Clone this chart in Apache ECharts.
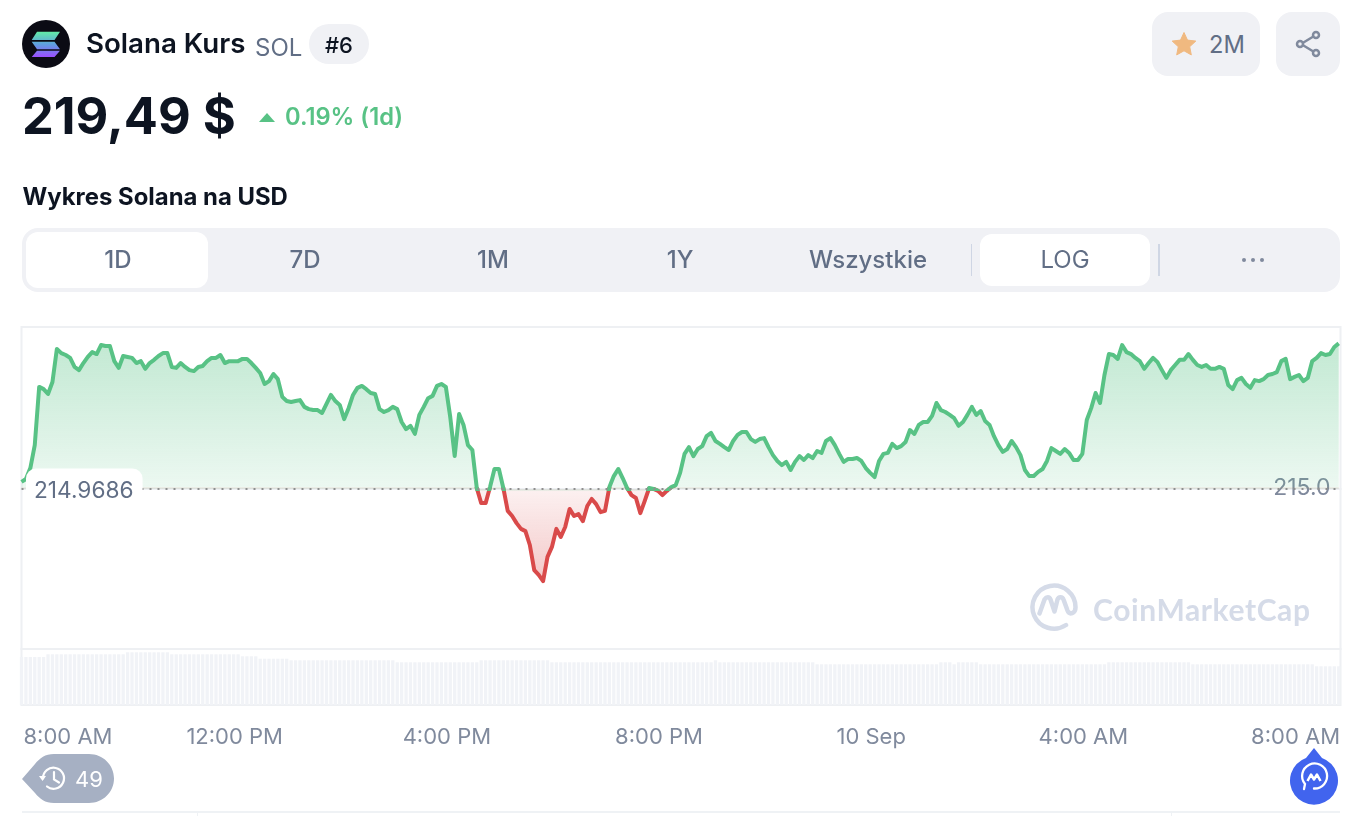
<!DOCTYPE html>
<html lang="pl">
<head>
<meta charset="utf-8">
<title>Solana Kurs</title>
<script src="https://cdn.jsdelivr.net/npm/echarts@6/dist/echarts.min.js"></script>
<style>
html, body { margin: 0; padding: 0; background: #fff; }
body { width: 1360px; height: 816px; overflow: hidden; position: relative; font-family: Inter, "Noto Sans", sans-serif; color: #0d1421; }
#chart { position: absolute; left: 0; top: 0; width: 1360px; height: 816px; }
.t { position: absolute; white-space: nowrap; line-height: 1; }
.box { position: absolute; }
.tab { position: absolute; top: 228px; height: 64px; line-height: 63px; text-align: center; font-size: 24px; font-weight: 500; color: #616e85; transform: translateX(-50%); white-space: nowrap; }
svg { position: absolute; overflow: visible; }
</style>
</head>
<body>
<div id="chart"></div>

<!-- naglowek -->
<svg style="left:22px;top:20px" width="48" height="48" viewBox="0 0 48 48">
  <defs><linearGradient id="sol" x1="0" y1="0" x2="0" y2="1"><stop offset="0" stop-color="#62eca6"/><stop offset="0.5" stop-color="#5f9fe0"/><stop offset="1" stop-color="#9b4dff"/></linearGradient></defs>
  <circle cx="24" cy="24" r="24" fill="#0b0b14"/>
  <path fill="url(#sol)" d="M15 11.700H38L32.500 20H9.700zM9.700 21.700H32.500L38 29.300H15zM15 30.700H38L32.500 37H9.700z"/>
</svg>
<div class="t" style="left:86px;top:30px;font-size:27.700px;font-weight:600">Solana Kurs</div>
<div class="t" style="left:255px;top:36px;font-size:24px;color:#616e85">SOL</div>
<div class="box" style="left:309px;top:24px;width:60px;height:40px;border-radius:20px;background:#f0f1f5"></div>
<div class="t" style="left:325px;top:34px;font-size:22px;font-weight:500">#6</div>
<div class="t" style="left:22px;top:91px;font-size:50.500px;font-weight:700">219,49 $</div>
<svg style="left:259px;top:113px" width="16" height="9" viewBox="0 0 16 9"><path d="M8 0L16 9H0z" fill="#58c285"/></svg>
<div class="t" style="left:285px;top:105px;font-size:23.700px;font-weight:600;color:#58c285">0.19% (1d)</div>
<div class="t" style="left:22.500px;top:185px;font-size:23.900px;font-weight:700">Wykres Solana na USD</div>

<!-- przyciski -->
<div class="box" style="left:1152px;top:12px;width:108px;height:64px;border-radius:16px;background:#f0f1f5"></div>
<svg style="left:1172px;top:32px" width="24" height="24" viewBox="0 0 24 24"><path d="M12 .500l3.500 7.600 8.300 1-6.100 5.600 1.600 8.200L12 18.800l-7.300 4.100 1.600-8.200L.200 9.100l8.300-1z" fill="#f0b980" stroke="#f0b980" stroke-linejoin="round"/></svg>
<div class="t" style="left:1209px;top:33px;font-size:23.700px;color:#616e85">2M</div>
<div class="box" style="left:1276px;top:12px;width:64px;height:64px;border-radius:16px;background:#f0f1f5"></div>
<svg style="left:1296px;top:32px" width="24" height="24" viewBox="0 0 24 24" fill="none" stroke="#808a9d" stroke-width="2.500"><path d="M5 12L19 3.500M5 12l14 8.500"/><circle cx="4" cy="12" r="3" fill="#f0f1f5"/><circle cx="20" cy="3" r="3" fill="#f0f1f5"/><circle cx="20" cy="21" r="3" fill="#f0f1f5"/></svg>

<!-- zakladki -->
<div class="box" style="left:22px;top:228px;width:1318px;height:64px;border-radius:16px;background:#f0f1f5"></div>
<div class="box" style="left:26px;top:232px;width:182px;height:56px;border-radius:12px;background:#fff"></div>
<div class="box" style="left:980px;top:234px;width:170px;height:52px;border-radius:12px;background:#fff"></div>
<div class="box" style="left:971px;top:244px;width:1px;height:32px;background:#cfd6e4"></div>
<div class="box" style="left:1158px;top:244px;width:2px;height:32px;background:#cfd6e4"></div>
<div class="tab" style="left:118px">1D</div>
<div class="tab" style="left:305px">7D</div>
<div class="tab" style="left:493px">1M</div>
<div class="tab" style="left:680px">1Y</div>
<div class="tab" style="left:868px">Wszystkie</div>
<div class="tab" style="left:1065px;font-weight:400">LOG</div>
<svg style="left:1241px;top:257px" width="24" height="6" viewBox="0 0 24 6" fill="#808a9d"><circle cx="3" cy="3" r="2"/><circle cx="12" cy="3" r="2"/><circle cx="21" cy="3" r="2"/></svg>

<!-- znak wodny -->
<svg style="left:1030px;top:584px" width="48" height="48" viewBox="0 0 48 48" fill="none" stroke="#d5dbe8" stroke-width="4.500" stroke-linecap="round" stroke-linejoin="round">
  <path d="M36 41A21.500 21.500 0 1 1 45.500 23.500c0 6-6 8-8 3l-4-11c-1-3-5-3-6 0l-3 12-4-12c-1-3-4-3-6 0l-5 14"/>
</svg>
<div class="t" style="left:1093px;top:594px;font-size:30px;font-weight:700;color:#d5dbe8;font-family:Lato,Inter,sans-serif;letter-spacing:.6px">CoinMarketCap</div>

<!-- dol -->
<svg style="left:22px;top:754px" width="92" height="49" viewBox="0 0 92 49"><path d="M0 25L13 10C18 4 23 0 32 0H67C81 0 92 11 92 24.500S81 49 67 49H32C23 49 18 45 13 39z" fill="#a6b0c3"/>
  <g fill="none" stroke="#fff" stroke-width="2.200" stroke-linecap="round"><path d="M21 24.500a10.500 10.500 0 1 1 4 8"/><path d="M32 18v7.500l5 3"/></g><path d="M17 22h7l-3.500 5z" fill="#fff"/></svg>
<div class="t" style="left:75px;top:768px;font-size:22px;font-weight:400;color:#fff">49</div>
<svg style="left:1290px;top:748px" width="48" height="56" viewBox="0 0 48 56"><path d="M24 0l8 10A24 24 0 1 1 16 10z" fill="#4164ee"/>
  <path d="M14 41l1-5a12.500 12.500 0 1 1 9 4.500" fill="none" stroke="#fff" stroke-width="2.300" stroke-linecap="round"/><path d="M17.500 33l3.500-6.500 3 5 3-5 3.500 6.500" fill="none" stroke="#fff" stroke-width="2.500" stroke-linejoin="round"/></svg>
<div class="box" style="left:22px;top:811px;width:1318px;height:2px;background:#eff2f5"></div>
<div class="box" style="left:197px;top:811px;width:1px;height:5px;background:#eff2f5"></div>
<div class="box" style="left:1171px;top:811px;width:1px;height:5px;background:#eff2f5"></div>

<script>
// dane wykresu, krok 5 minut od 8:00 AM
const stepMinutes = 5;
const basePrice = 214.9686;
const xTickLabels = ["8:00 AM", "12:00 PM", "4:00 PM", "8:00 PM", "10 Sep", "4:00 AM", "8:00 AM"];
const prices = [
    215.19, 215.28, 215.62, 216.33, 218.14, 218.07, 217.92, 218.29, 219.32, 219.19,
    219.13, 219.04, 218.76, 218.66, 218.88, 219.07, 219.22, 219.16, 219.44, 219.41,
    219.41, 218.94, 218.73, 219.10, 219.07, 219.04, 218.88, 218.94, 218.70, 218.88,
    218.98, 219.10, 219.19, 219.19, 218.76, 218.73, 218.88, 218.76, 218.66, 218.63,
    218.76, 218.79, 218.94, 219.04, 219.04, 219.13, 218.88, 218.94, 218.94, 218.94,
    219.01, 219.01, 218.88, 218.73, 218.57, 218.23, 218.32, 218.54, 218.38, 217.83,
    217.70, 217.67, 217.70, 217.73, 217.52, 217.45, 217.42, 217.42, 217.33, 217.61,
    217.89, 217.70, 217.58, 217.14, 217.48, 217.89, 218.11, 218.17, 218.07, 217.95,
    217.92, 217.45, 217.36, 217.42, 217.52, 217.45, 217.05, 216.83, 216.93, 216.68,
    217.27, 217.52, 217.79, 217.86, 218.17, 218.23, 218.14, 217.20, 215.99, 217.30,
    216.96, 216.33, 216.18, 215.00, 214.53, 214.53, 215.03, 215.59, 215.59, 215.00,
    214.29, 214.13, 213.91, 213.73, 213.66, 213.23, 212.45, 212.30, 212.11, 212.86,
    213.17, 213.73, 213.48, 213.79, 214.35, 214.13, 214.19, 213.97, 214.44, 214.66,
    214.50, 214.25, 214.29, 215.03, 215.37, 215.59, 215.31, 215.00, 214.78, 214.69,
    214.22, 214.60, 215.00, 214.97, 214.91, 214.78, 214.91, 215.03, 215.09, 215.47,
    216.06, 216.27, 215.99, 216.21, 216.30, 216.61, 216.71, 216.46, 216.37, 216.27,
    216.18, 216.46, 216.65, 216.74, 216.74, 216.52, 216.43, 216.52, 216.55, 216.27,
    216.02, 215.84, 215.71, 215.81, 215.56, 215.81, 215.99, 215.87, 216.02, 215.93,
    216.15, 216.09, 216.46, 216.55, 216.33, 216.06, 215.81, 215.90, 215.90, 215.93,
    215.84, 215.62, 215.47, 215.34, 215.84, 216.06, 216.09, 216.37, 216.24, 216.30,
    216.43, 216.80, 216.68, 216.96, 217.05, 217.05, 217.24, 217.64, 217.42, 217.36,
    217.27, 217.17, 216.93, 217.05, 217.27, 217.52, 217.27, 217.39, 217.08, 216.96,
    216.61, 216.33, 216.12, 216.21, 216.46, 216.27, 216.02, 215.56, 215.37, 215.37,
    215.50, 215.59, 215.84, 216.24, 216.15, 216.06, 216.21, 216.09, 215.87, 215.87,
    216.06, 217.11, 217.48, 217.95, 217.64, 218.51, 219.16, 219.13, 219.01, 219.44,
    219.22, 219.16, 219.04, 218.94, 218.70, 218.88, 219.04, 218.91, 218.66, 218.42,
    218.66, 218.82, 218.98, 218.98, 219.16, 218.98, 218.82, 218.76, 218.82, 218.70,
    218.70, 218.76, 218.70, 218.20, 218.07, 218.35, 218.42, 218.23, 218.11, 218.35,
    218.32, 218.38, 218.51, 218.54, 218.60, 218.94, 219.01, 218.38, 218.45, 218.51,
    218.32, 218.42, 218.94, 219.04, 219.19, 219.13, 219.16, 219.38, 219.49
];
const volumes = [
    4.8, 4.8, 4.8, 4.8, 4.8, 4.8,
    5.07, 5.07, 5.07, 5.07, 5.07, 5.07, 5.07, 5.07, 5.07, 5.07, 5.07, 5.07, 5.07, 5.07, 5.07, 5.07, 5.07, 5.07,
    5.27, 5.27, 5.27, 5.27, 5.27, 5.27, 5.27, 5.27, 5.27, 5.27,
    5.07, 5.07, 5.07, 5.07, 5.07, 5.07, 5.07, 5.07, 5.07, 5.07, 5.07, 5.07, 5.07, 5.07, 5.07, 5.07,
    4.87, 4.87, 4.87, 4.87,
    4.63, 4.63, 4.63, 4.63, 4.63, 4.63, 4.63,
    4.47, 4.47, 4.47, 4.47, 4.47, 4.47, 4.47, 4.47, 4.47, 4.47, 4.47, 4.47,
    4.47, 4.47, 4.47, 4.47, 4.47, 4.47, 4.47, 4.47, 4.47, 4.47, 4.47, 4.47,
    4.27, 4.27, 4.27, 4.27, 4.27, 4.27, 4.27, 4.27, 4.27, 4.27, 4.27, 4.27, 4.27, 4.27, 4.27, 4.27, 4.27, 4.27, 4.27,
    4.47, 4.47, 4.47, 4.47, 4.47, 4.47, 4.47, 4.47, 4.47, 4.47, 4.47, 4.47, 4.47, 4.47, 4.47, 4.47,
    4.27, 4.27, 4.27, 4.27, 4.27, 4.27, 4.27, 4.27, 4.27, 4.27, 4.27, 4.27, 4.27, 4.27, 4.27, 4.27, 4.27, 4.27, 4.27,
    4.27, 4.27, 4.27, 4.27, 4.27, 4.27, 4.27, 4.27, 4.27, 4.27, 4.27, 4.27, 4.27, 4.27, 4.27, 4.27, 4.27, 4.27,
    4.47,
    4.27, 4.27, 4.27, 4.27, 4.27, 4.27, 4.27, 4.27, 4.27, 4.27, 4.27,
    4.27, 4.27, 4.27, 4.27, 4.27, 4.27, 4.27, 4.27, 4.27, 4.27, 4.27,
    4.07, 4.07, 4.07, 4.07, 4.07, 4.07, 4.07, 4.07, 4.07, 4.07, 4.07, 4.07, 4.07, 4.07,
    4.07, 4.07, 4.07, 4.07, 4.07, 4.07, 4.07, 4.07, 4.07, 4.07, 4.07, 4.07, 4.07, 4.07,
    4.27, 4.27, 4.27,
    4.07,
    4.27, 4.27, 4.27, 4.27, 4.27,
    4.07, 4.07, 4.07, 4.07, 4.07, 4.07, 4.07, 4.07, 4.07, 4.07, 4.07, 4.07, 4.07, 4.07, 4.07,
    4.07, 4.07, 4.07, 4.07, 4.07, 4.07, 4.07, 4.07, 4.07, 4.07, 4.07, 4.07, 4.07, 4.07,
    4.27, 4.27, 4.27, 4.27, 4.27, 4.27, 4.27, 4.27, 4.27, 4.27, 4.27, 4.27, 4.27, 4.27, 4.27, 4.27, 4.27, 4.27, 4.27,
    4.07, 4.07, 4.07, 4.07, 4.07, 4.07, 4.07, 4.07, 4.07, 4.07, 4.07, 4.07, 4.07, 4.07,
    4.07, 4.07, 4.07, 4.07, 4.07, 4.07, 4.07, 4.07, 4.07, 4.07, 4.07, 4.07, 4.07, 4.07,
    3.87, 3.87, 3.87, 3.87, 3.87, 3.87
];

const green = "#58c285";
const red = "#d94a4a";
const frameColor = "#eef0f3";
const xMax = 1492;
const priceData = prices.map((p, i) => [i * stepMinutes, p]);
const volumeData = volumes.map((v, i) => [i * stepMinutes, v]);

function xAxisFor(gridIndex, showLabels) {
    return {
        type: "value", gridIndex: gridIndex, min: 0, max: xMax, interval: 240,
        splitLine: { show: false }, axisLine: { show: false }, axisTick: { show: false },
        axisLabel: {
            show: showLabels, color: "#808a9d", fontFamily: "Inter", fontSize: 22, margin: 21,
            alignMinLabel: "left", padding: [0, 0, 0, 2],
            formatter: v => xTickLabels[v / 240]
        }
    };
}
function gridFor(top, height) {
    return { left: 21.5, right: 19.5, top: top, height: height, show: true, borderColor: frameColor, borderWidth: 2, backgroundColor: "transparent" };
}
// gradient w pikselach ekranu, bo obszar jest przyciety do siatki
function fade(y0, y1, color0, color1) {
    return new echarts.graphic.LinearGradient(0, y0, 0, y1, [
        { offset: 0, color: color0 }, { offset: 1, color: color1 }
    ], true);
}

var myChart = echarts.init(document.getElementById("chart"));
var option = {
    animation: false,
    grid: [gridFor(327, 162), gridFor(489, 160), gridFor(649, 56)],
    xAxis: [xAxisFor(0, false), xAxisFor(1, false), xAxisFor(2, true)],
    yAxis: [
        {
            type: "value", gridIndex: 0, min: basePrice, max: 220, position: "right",
            splitLine: { show: false }, axisLine: { show: false }, axisTick: { show: false },
            axisLabel: {
                inside: true, margin: 10, color: "#808a9d", fontFamily: "Inter", fontSize: 23,
                customValues: [215], formatter: v => v.toFixed(1), padding: [0, 0, 5, 0]
            }
        },
        { type: "value", gridIndex: 1, min: 210, max: basePrice, show: false, splitLine: { show: false } },
        { type: "value", gridIndex: 2, min: 0, max: 5.6, show: false, splitLine: { show: false } }
    ],
    series: [
        {
            type: "bar", xAxisIndex: 2, yAxisIndex: 2, data: volumeData, barWidth: 3.3, silent: true,
            itemStyle: { color: "#f1f3f7" }
        },
        {
            type: "line", xAxisIndex: 1, yAxisIndex: 1, data: priceData, showSymbol: false, silent: true,
            lineStyle: { color: red, width: 4, join: "round" },
            areaStyle: { origin: "end", opacity: 1, color: fade(489, 581, "rgba(217,74,74,0.08)", "rgba(217,74,74,0.30)") }
        },
        {
            type: "line", xAxisIndex: 0, yAxisIndex: 0, data: priceData, showSymbol: false, silent: true,
            lineStyle: { color: green, width: 4, join: "round" },
            areaStyle: { origin: "start", opacity: 1, color: fade(344, 489, "rgba(88,194,133,0.36)", "rgba(88,194,133,0.11)") },
            markLine: {
                silent: true, symbol: "none", z: 4,
                lineStyle: { type: [2, 6], color: "#8f8f8f", width: 2 },
                label: { show: false },
                data: [{ yAxis: basePrice }]
            },
            markPoint: {
                silent: true, z: 6, symbol: "circle", symbolSize: 1, itemStyle: { color: "transparent" },
                label: {
                    show: true, position: "right", distance: 4, offset: [0, 2], formatter: "214.9686",
                    color: "#616e85", fontFamily: "Inter", fontSize: 22.7,
                    backgroundColor: "#fff", borderRadius: 10, padding: [13, 9, 9, 8]
                },
                data: [{ coord: [0, basePrice] }]
            }
        }
    ]
};
myChart.setOption(option);
</script>
</body>
</html>
